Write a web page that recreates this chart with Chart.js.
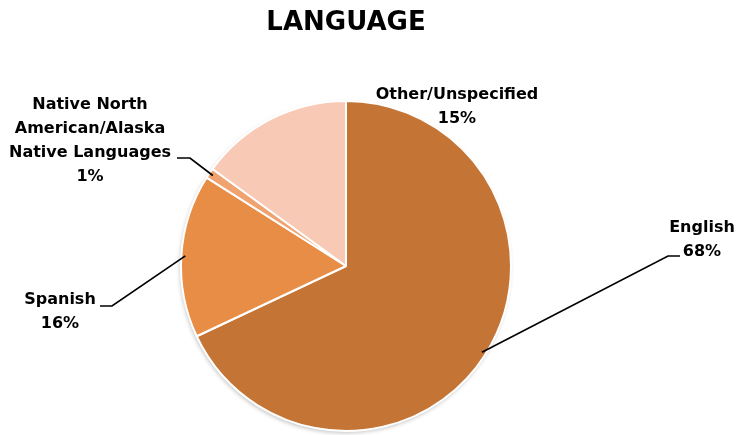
<!DOCTYPE html>
<html>
<head>
<meta charset="utf-8">
<script src="https://cdn.jsdelivr.net/npm/chart.js@4"></script>
<style>
  html, body { margin: 0; padding: 0; background: #fff; }
  #wrap { width: 737px; height: 435px; position: relative; }
</style>
</head>
<body>
<div id="wrap"><canvas id="langChart" width="737" height="435"></canvas></div>
<script>
// Language pie chart

const categories = ["English", "Spanish", "Native North American/Alaska Native Languages", "Other/Unspecified"];
const shares = [68, 16, 1, 15];
const sliceColors = ["#C47535", "#E88D45", "#F0A36E", "#F8C9B4"];

const FONT = "'DejaVu Sans', sans-serif";

// label text lines + where they sit, and leader line path (null = no line)
const labelSetup = [
  { lines: ["English", "68%"], x: 702, y: 228, leader: [[680, 256], [668, 256]] },
  { lines: ["Spanish", "16%"], x: 60, y: 300, leader: [[100, 306], [112, 306]] },
  { lines: ["Native North", "American/Alaska", "Native Languages", "1%"], x: 90, y: 105, leader: [[177, 158], [190, 158]] },
  { lines: ["Other/Unspecified", "15%"], x: 457, y: 95, leader: null }
];

const labelPlugin = {
  id: "pieLabels",
  beforeDatasetsDraw(chart) {
    const ctx = chart.ctx;
    const arc = chart.getDatasetMeta(0).data[0];
    ctx.save();
    ctx.shadowColor = "rgba(0,0,0,0.25)";
    ctx.shadowBlur = 4;
    ctx.shadowOffsetX = -1;
    ctx.shadowOffsetY = 2;
    ctx.beginPath();
    ctx.arc(arc.x, arc.y, arc.outerRadius, 0, Math.PI * 2);
    ctx.fillStyle = "#fff";
    ctx.fill();
    ctx.restore();
  },
  afterDatasetsDraw(chart) {
    const ctx = chart.ctx;
    const meta = chart.getDatasetMeta(0);
    ctx.save();

    // title
    ctx.fillStyle = "#000";
    ctx.font = "bold 26px " + FONT;
    ctx.textAlign = "center";
    ctx.textBaseline = "middle";
    ctx.fillText("LANGUAGE", 346, 23);

    ctx.font = "bold 16px " + FONT;
    labelSetup.forEach((lab, i) => {
      const a = meta.data[i];
      const mid = (a.startAngle + a.endAngle) / 2;
      const ex = a.x + Math.cos(mid) * (a.outerRadius - 4);
      const ey = a.y + Math.sin(mid) * (a.outerRadius - 4);
      if (lab.leader) {
        ctx.beginPath();
        ctx.strokeStyle = "#000";
        ctx.lineWidth = 1.7;
        ctx.moveTo(lab.leader[0][0], lab.leader[0][1]);
        ctx.lineTo(lab.leader[1][0], lab.leader[1][1]);
        ctx.lineTo(ex, ey);
        ctx.stroke();
      }
      lab.lines.forEach((t, k) => {
        ctx.fillText(t, lab.x, lab.y + k * 24);
      });
    });
    ctx.restore();
  }
};

new Chart(document.getElementById("langChart"), {
  type: "pie",
  data: {
    labels: categories,
    datasets: [{
      data: shares,
      backgroundColor: sliceColors,
      borderColor: "#fff",
      borderWidth: 2
    }]
  },
  options: {
    responsive: false,
    animation: false,
    layout: { padding: { top: 100, bottom: 3, left: 180, right: 225 } },
    plugins: {
      legend: { display: false },
      tooltip: { enabled: false },
      title: { display: false }
    }
  },
  plugins: [labelPlugin]
});
</script>
</body>
</html>
